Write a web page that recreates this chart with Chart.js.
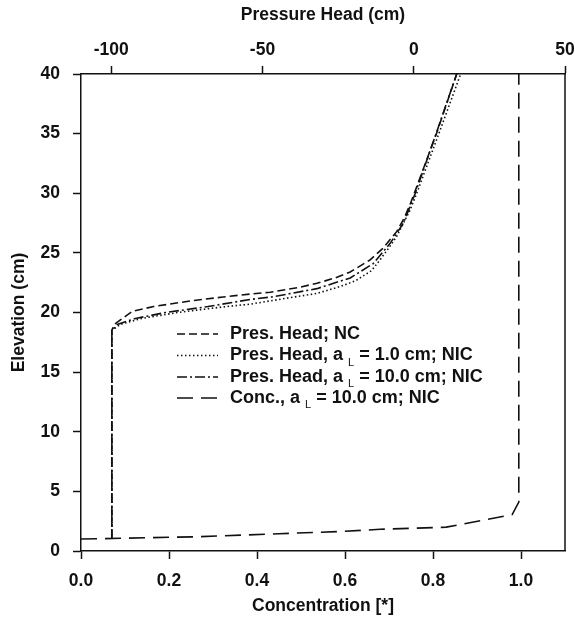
<!DOCTYPE html>
<html>
<head>
<meta charset="utf-8">
<script src="https://cdn.jsdelivr.net/npm/chart.js@4.4.1/dist/chart.umd.min.js"></script>
<style>
  html, body { margin: 0; padding: 0; background: #fff; }
  #wrap { width: 575px; height: 623px; }
</style>
</head>
<body>
<div id="wrap"><canvas id="c" width="575" height="623"></canvas></div>
<script>
// ---- data ----
const elevNC  = [1, 18.5, 19, 20.1, 20.5, 21, 21.3, 21.55, 21.7, 22.1, 22.45, 22.9, 23.4, 24.4, 25.4, 26.8, 28, 29.2, 35, 40];
const presNC  = [-99.8, -99.8, -99, -93, -86, -73, -63, -54, -47.5, -38, -32, -26, -21, -14.5, -10.1, -5.6, -3, -1, 7.5, 14.2];

const elevL1  = [1, 18.5, 19, 19.5, 20, 20.5, 20.7, 21.2, 21.6, 22.2, 22.7, 23.5, 24.4, 25.5, 26.4, 28.6, 30, 35, 40];
const presL1  = [-99.8, -99.8, -97, -90, -78, -62, -54, -42, -32, -24, -19, -14, -11.2, -8, -5.6, -1.2, 1.0, 8.3, 15.5];

const elevL10 = [1, 18.5, 19, 19.5, 20, 20.5, 21.1, 21.3, 22, 22.9, 24.1, 25.8, 27.5, 30, 35, 40];
const presL10 = [-99.8, -99.8, -98, -92, -82, -68, -54, -47, -32, -21, -13.4, -7.8, -3.4, 0.5, 7.4, 14.2];

const elevConc = [1.0, 1.2, 1.45, 1.65, 1.82, 2.0, 3.05, 4.1, 40];
const concVals = [0, 0.27, 0.45, 0.6, 0.68, 0.83, 0.98, 0.995, 0.995];

const concTicks  = [0, 0.2, 0.4, 0.6, 0.8, 1.0];
const presTicks  = [-100, -50, 0, 50];
const elevTicks  = [0, 5, 10, 15, 20, 25, 30, 35, 40];

const legendLabels = [
  ["Pres. Head; NC"],
  ["Pres. Head, a", "L", "= 1.0 cm; NIC"],
  ["Pres. Head, a", "L", "= 10.0 cm; NIC"],
  ["Conc., a", "L", "= 10.0 cm; NIC"]
];

// ---- build ----
const pts = (xs, ys) => xs.map((x, i) => ({x: x, y: ys[i]}));
const INK = '#111';
const FONT = "'Liberation Sans', Arial, Helvetica, sans-serif";

const datasets = [
  {data: pts(presNC, elevNC), xAxisID: 'x2', borderDash: [8, 4]},
  {data: pts(presL1, elevL1), xAxisID: 'x2', borderDash: [1.5, 2.5]},
  {data: pts(presL10, elevL10), xAxisID: 'x2', borderDash: [10, 3, 2, 3]},
  {data: pts(concVals, elevConc), xAxisID: 'x', borderDash: [16, 8]}
].map(d => Object.assign({
  yAxisID: 'y', borderColor: INK, borderWidth: 1.6, pointRadius: 0,
  fill: false, tension: 0, showLine: true
}, d));

const fixTicks = (list) => (scale) => { scale.ticks = list.map(v => ({value: v})); };
const fitSize = (prop, val) => (scale) => {
  scale[prop] = val;
  scale.paddingLeft = 0; scale.paddingRight = 0;
  scale.paddingTop = 0; scale.paddingBottom = 0;
};

const frame = {
  id: 'frame',
  afterDatasetsDraw(chart) {
    const {ctx, chartArea: a} = chart;
    ctx.save();
    ctx.strokeStyle = INK;
    ctx.lineWidth = 1.5;
    ctx.beginPath();
    ctx.moveTo(a.right, a.top);
    ctx.lineTo(a.right, a.bottom);
    ctx.stroke();
    ctx.restore();
  }
};

const legendPlugin = {
  id: 'customLegend',
  afterDatasetsDraw(chart) {
    const {ctx} = chart;
    const rows = [334, 355.5, 377, 398];
    const x0 = 177, x1 = 218, tx = 230;
    ctx.save();
    chart.data.datasets.forEach((ds, i) => {
      const y = rows[i];
      ctx.strokeStyle = ds.borderColor;
      ctx.lineWidth = ds.borderWidth;
      ctx.setLineDash(ds.borderDash);
      ctx.beginPath();
      ctx.moveTo(x0, y);
      ctx.lineTo(x1, y);
      ctx.stroke();
      ctx.setLineDash([]);
      ctx.fillStyle = INK;
      ctx.textBaseline = 'middle';
      ctx.textAlign = 'left';
      const parts = legendLabels[i];
      let x = tx;
      ctx.font = 'bold 18px ' + FONT;
      ctx.fillText(parts[0], x, y);
      x += ctx.measureText(parts[0]).width;
      if (parts.length > 1) {
        x += 5;
        ctx.font = '11px ' + FONT;
        ctx.fillText(parts[1], x, y + 7);
        x += ctx.measureText(parts[1]).width + 5;
        ctx.font = 'bold 18px ' + FONT;
        ctx.fillText(parts[2], x, y);
      }
    });
    ctx.restore();
  }
};

const tickFont = {family: FONT, size: 17.5, weight: 'bold'};
const titleFont = {family: FONT, size: 17.5, weight: 'bold'};

new Chart(document.getElementById('c'), {
  type: 'scatter',
  data: {datasets},
  options: {
    responsive: false,
    animation: false,
    devicePixelRatio: 1,
    layout: {padding: {left: 0, right: 10, top: 0, bottom: 0}},
    plugins: {legend: {display: false}, tooltip: {enabled: false}},
    scales: {
      x: {
        type: 'linear', position: 'bottom', min: 0, max: 1.1,
        afterBuildTicks: fixTicks(concTicks),
        afterFit: fitSize('height', 72),
        grid: {drawOnChartArea: false, drawTicks: true, tickLength: 8, tickColor: INK, tickWidth: 1.5},
        border: {display: true, color: INK, width: 1.5},
        ticks: {color: INK, font: tickFont, padding: 12, maxRotation: 0, autoSkip: false,
                callback: v => v.toFixed(1)},
        title: {display: true, text: 'Concentration [*]', color: INK, font: titleFont, padding: {top: 0, bottom: 6}}
      },
      x2: {
        type: 'linear', position: 'top', min: -110, max: 50,
        afterBuildTicks: fixTicks(presTicks),
        afterFit: fitSize('height', 74),
        grid: {drawOnChartArea: false, drawTicks: true, tickLength: 8, tickColor: INK, tickWidth: 1.5},
        border: {display: true, color: INK, width: 1.5},
        ticks: {color: INK, font: tickFont, padding: 5, maxRotation: 0, autoSkip: false,
                callback: v => String(v)},
        title: {display: true, text: 'Pressure Head (cm)', color: INK, font: titleFont, padding: {top: 5, bottom: 0}}
      },
      y: {
        type: 'linear', position: 'left', min: 0, max: 40,
        afterBuildTicks: fixTicks(elevTicks),
        afterFit: fitSize('width', 81),
        grid: {drawOnChartArea: false, drawTicks: true, tickLength: 8, tickColor: INK, tickWidth: 1.5},
        border: {display: true, color: INK, width: 1.5},
        ticks: {color: INK, font: tickFont, padding: 13, autoSkip: false,
                callback: v => String(v)},
        title: {display: true, text: 'Elevation (cm)', color: INK, font: titleFont, padding: {top: 9, bottom: 0}}
      }
    }
  },
  plugins: [frame, legendPlugin]
});
</script>
</body>
</html>
